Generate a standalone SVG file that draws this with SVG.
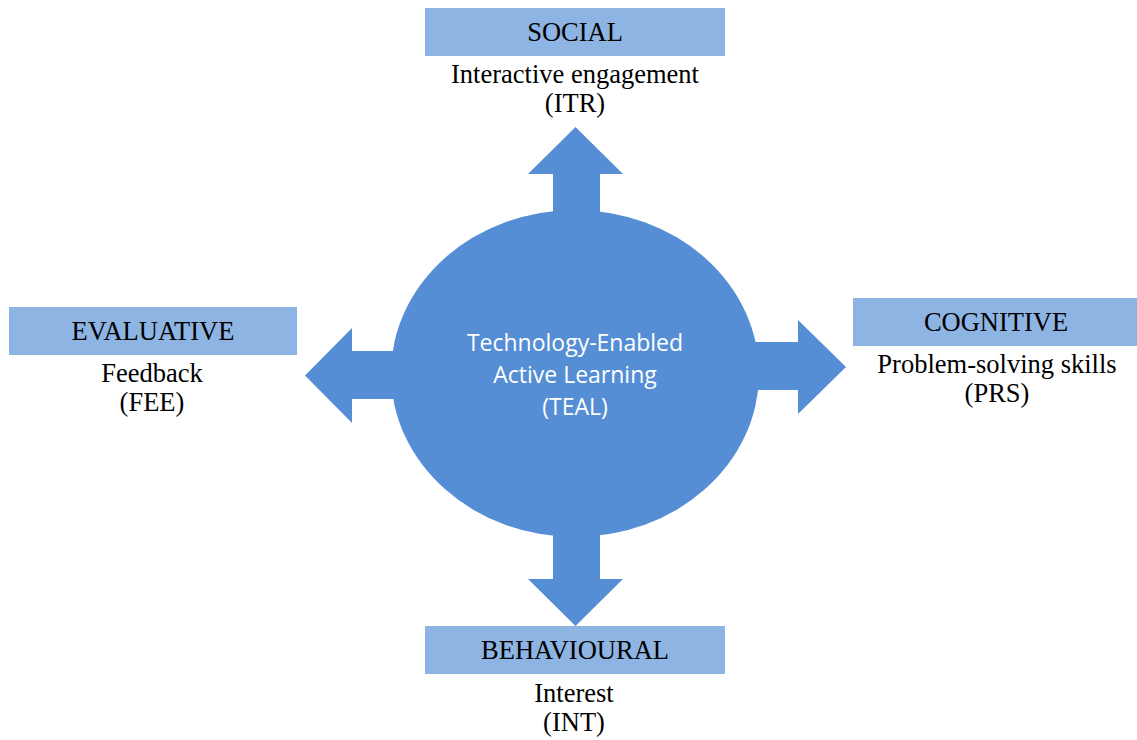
<svg xmlns="http://www.w3.org/2000/svg" width="1137" height="740" viewBox="0 0 1137 740">
<defs>
<style>
.box{fill:#8EB4E3;}
.shape{fill:#558ED5;}
.t{font-family:"Liberation Serif","Times New Roman",serif;font-size:26.5px;fill:#000;text-anchor:middle;}
.c{font-family:"Open Sans","Liberation Sans",sans-serif;font-size:23px;fill:#fff;text-anchor:middle;}
</style>
</defs>
<rect width="1137" height="740" fill="#fff"/>
<g id="connectors">
<polygon class="shape" points="553,240 553,174 528,174 575.5,127 623,174 600,174 600,240"/>
<polygon class="shape" points="553,500 553,579 528,579 575.5,626 623,579 600,579 600,500"/>
<polygon class="shape" points="420,351 352,351 352,328 305,375.5 352,423 352,399 420,399"/>
<polygon class="shape" points="730,342 798,342 798,320 846,367 798,414 798,390 730,390"/>
</g>
<g id="teal">
<ellipse class="shape" cx="575" cy="373.5" rx="184" ry="163.5"/>
<text class="c" x="575" y="351">Technology-Enabled</text>
<text class="c" x="575" y="383">Active Learning</text>
<text class="c" x="575" y="415">(TEAL)</text>
</g>
<g id="social">
<rect class="box" x="425" y="8" width="300" height="48"/>
<text class="t" x="575" y="40.5">SOCIAL</text>
<text class="t" x="575" y="83">Interactive engagement</text>
<text class="t" x="575" y="112">(ITR)</text>
</g>
<g id="evaluative">
<rect class="box" x="9" y="307" width="288" height="48"/>
<text class="t" x="153" y="339.5">EVALUATIVE</text>
<text class="t" x="152" y="381.5">Feedback</text>
<text class="t" x="152" y="410.5">(FEE)</text>
</g>
<g id="cognitive">
<rect class="box" x="853" y="298" width="284" height="48"/>
<text class="t" x="996" y="331">COGNITIVE</text>
<text class="t" x="997" y="372.5">Problem-solving skills</text>
<text class="t" x="997" y="401.5">(PRS)</text>
</g>
<g id="behavioural">
<rect class="box" x="425" y="626" width="300" height="48"/>
<text class="t" x="575" y="659">BEHAVIOURAL</text>
<text class="t" x="574" y="701.5">Interest</text>
<text class="t" x="574" y="730.5">(INT)</text>
</g>
</svg>
